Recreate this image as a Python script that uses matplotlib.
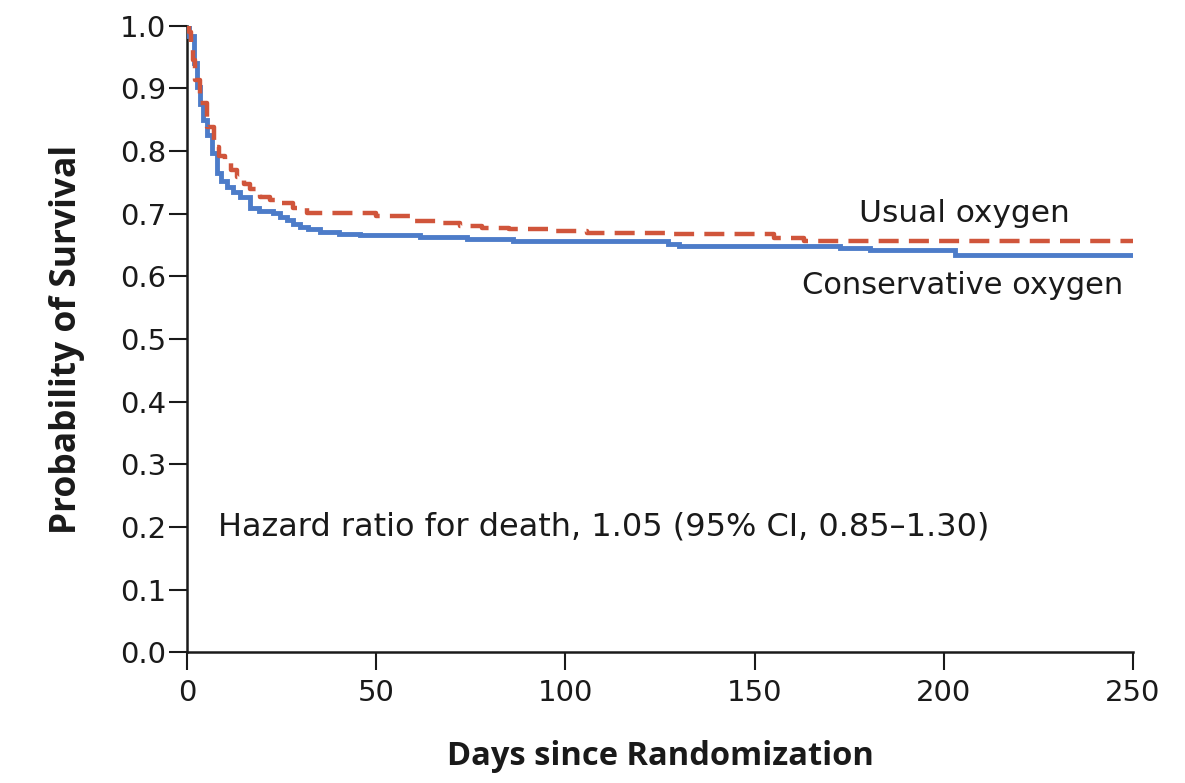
import matplotlib
matplotlib.use("Agg")
import matplotlib.pyplot as plt

# Kaplan-Meier step data (days, survival probability)
cons_days = [0, 0.4, 1.7, 2.5, 3.5, 4.3, 5.2, 6.5, 7.8, 9, 10.5, 12, 14, 16.6, 19, 22.7,
             24.5, 26.4, 28, 29.9, 32, 35, 40, 45.7, 61.6, 74, 86, 127, 130, 172.6,
             180.5, 203, 250]
cons_surv = [1.0, 0.983, 0.94, 0.903, 0.875, 0.85, 0.825, 0.797, 0.765, 0.752, 0.743,
             0.735, 0.727, 0.709, 0.705, 0.701, 0.695, 0.69, 0.684, 0.679, 0.675, 0.671,
             0.668, 0.666, 0.663, 0.66, 0.656, 0.652, 0.649, 0.645, 0.642, 0.634, 0.634]

usual_days = [0, 0.5, 1, 1.5, 2, 3.4, 5.2, 7, 8.5, 10, 11.5, 13.2, 15, 16.6, 19.3, 22,
              24.6, 28, 31.6, 50, 59, 66, 72, 78, 85, 96, 105.7, 127.6, 155, 163, 250]
usual_surv = [1.0, 0.99, 0.967, 0.946, 0.914, 0.877, 0.839, 0.807, 0.792, 0.781, 0.77,
              0.759, 0.748, 0.74, 0.727, 0.722, 0.717, 0.709, 0.701, 0.697, 0.689, 0.685,
              0.681, 0.678, 0.675, 0.673, 0.67, 0.667, 0.662, 0.657, 0.657]

x_ticks = [0, 50, 100, 150, 200, 250]
y_ticks = [0.0, 0.1, 0.2, 0.3, 0.4, 0.5, 0.6, 0.7, 0.8, 0.9, 1.0]

plt.rcParams['font.family'] = ['DejaVu Sans']

fig = plt.figure(figsize=(11.85, 7.83), dpi=100)
ax = fig.add_axes([0.158, 0.167, 0.798, 0.800])

blue = '#4d7cc9'
orange = '#d0553b'
ink = '#1a1a1a'

ax.step(cons_days, cons_surv, where='post', color=blue, lw=3.5, zorder=3,
        solid_joinstyle='miter')
ax.step(usual_days, usual_surv, where='post', color=orange, lw=3.2, zorder=4,
        dashes=(4.5, 2.3))

ax.set_xlim(0, 250)
ax.set_ylim(0, 1.0)
ax.set_xticks(x_ticks)
ax.set_xticklabels([str(v) for v in x_ticks])
ax.set_yticks(y_ticks)
ax.set_yticklabels([f"{v:.1f}" for v in y_ticks])

for s in ['top', 'right']:
    ax.spines[s].set_visible(False)
for s in ['left', 'bottom']:
    ax.spines[s].set_linewidth(1.8)
    ax.spines[s].set_color(ink)

ax.tick_params(axis='both', direction='out', length=13, width=1.5, color=ink,
               labelsize=21, labelcolor=ink, pad=2)
ax.tick_params(axis='x', pad=6)

ax.set_xlabel('Days since Randomization', fontsize=23.5, fontweight='bold',
              family=['Open Sans', 'DejaVu Sans'], labelpad=24, color=ink)
ax.set_ylabel('Probability of Survival', fontsize=25.5, fontweight='bold',
              family=['Open Sans', 'DejaVu Sans'], labelpad=25, color=ink)

ax.text(205.5, 0.70, 'Usual oxygen', fontsize=22.5, ha='center', va='center',
        color=ink)
ax.text(205, 0.586, 'Conservative oxygen', fontsize=22, ha='center', va='center',
        color=ink)
ax.text(8.2, 0.2, 'Hazard ratio for death, 1.05 (95% CI, 0.85\u20131.30)', fontsize=23,
        ha='left', va='center', color=ink)

fig.savefig('out.png', dpi=100, facecolor='white')
